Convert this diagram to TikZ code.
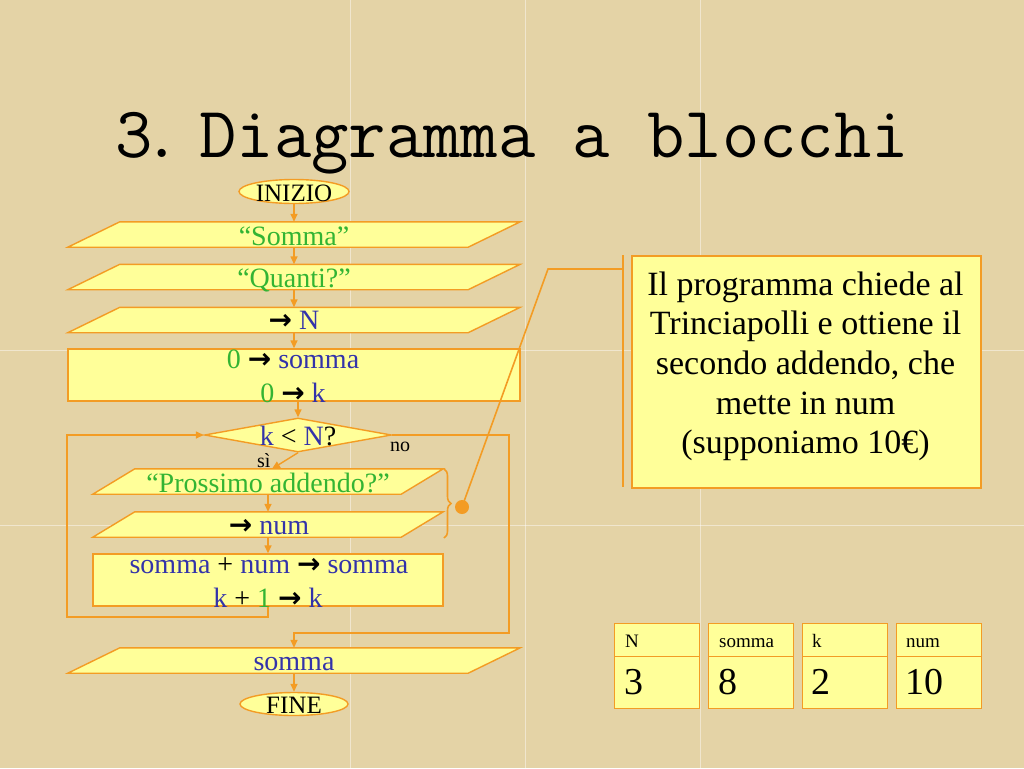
\documentclass[tikz,border=0pt]{standalone}
\usepackage{fontspec}
\setmainfont{Liberation Serif}
\newfontfamily\symfont{DejaVu Sans}
\usetikzlibrary{arrows.meta,calc,decorations.pathreplacing,shapes.geometric}
\definecolor{bgc}{RGB}{228,211,166}
\definecolor{boxfill}{RGB}{255,255,153}
\definecolor{orn}{RGB}{243,156,36}
\definecolor{grn}{RGB}{51,180,51}
\definecolor{blu}{RGB}{51,51,170}
\newcommand\ra{{\symfont\bfseries →}}
\newcommand\gr[1]{\textcolor{grn}{#1}}
\newcommand\bl[1]{\textcolor{blu}{#1}}
\newcommand\paragram[2]{\filldraw[box] ([xshift=#2]#1.north west) -- ([xshift=#2]#1.north east) -- ([xshift=-#2]#1.south east) -- ([xshift=-#2]#1.south west) -- cycle;}
\begin{document}
\begin{tikzpicture}[x=1pt,y=-1pt,
  box/.style={fill=boxfill,draw=orn,line width=1.4pt},
  conn/.style={draw=orn,line width=1.4pt,-{Triangle[length=8pt,width=7pt]}},
  wire/.style={draw=orn,line width=1.6pt},
  core/.style={inner sep=0pt,minimum height=25pt,draw=none,fill=none},
  ft/.style={anchor=base,inner sep=0pt,font=\fontsize{28}{34}\selectfont},
  small/.style={anchor=base west,inner sep=0pt,font=\fontsize{20}{24}\selectfont},
  big/.style={anchor=base west,inner sep=0pt,font=\fontsize{38}{44}\selectfont},
  cell/.style={box,anchor=north west,minimum width=85pt,inner sep=0pt},
  seam/.style={draw=white,opacity=0.45,line width=1pt}]
\useasboundingbox (0,0) rectangle (1024,768);
\fill[bgc] (0,0) rectangle (1024,768);
\foreach \v in {350,525,700} {\draw[seam] (\v,0) -- (\v,768);}
\foreach \h in {350,525} {\draw[seam] (0,\h) -- (1024,\h);}

% title
\node[anchor=base west,inner sep=0pt,font=\ttfamily\addfontfeature{FakeBold=1.6}\fontsize{72.5}{80}\selectfont] (title) at (115,157) {3\kern-0.13em.\kern-0.25em\ Diagramma a blocchi};

% flowchart shapes
\node[ellipse,box,minimum width=110pt,minimum height=24pt,inner sep=0pt] (inizio) at (294,191.5) {};
\node[core,minimum width=400pt] (p1) at (294,234.5) {}; \paragram{p1}{26pt}
\node[core,minimum width=400pt] (p2) at (294,277) {}; \paragram{p2}{26pt}
\node[core,minimum width=400pt] (p3) at (294,320) {}; \paragram{p3}{26pt}
\node[box,rectangle,minimum width=452pt,minimum height=52pt,inner sep=0pt] (r1) at (294,375) {};
\node[diamond,box,aspect=5.5,minimum width=187pt,minimum height=34pt,inner sep=0pt] (dec) at (298,435) {};
\node[core,minimum width=308pt] (p4) at (268,481.5) {}; \paragram{p4}{21pt}
\node[core,minimum width=308pt] (p5) at (268,524.5) {}; \paragram{p5}{21pt}
\node[box,rectangle,minimum width=350pt,minimum height=52pt,inner sep=0pt] (r2) at (268,580) {};
\node[core,minimum width=400pt] (p6) at (294,660.5) {}; \paragram{p6}{26pt}
\node[ellipse,box,minimum width=108pt,minimum height=23pt,inner sep=0pt] (fine) at (294,704) {};

% texts
\node[inner sep=0pt,font=\fontsize{25}{30}\selectfont] (tinizio) at (294,193) {INIZIO};
\node[ft] (t1) at (294,245) {\gr{“Somma”}};
\node[ft] (t2) at (294,287) {\gr{“Quanti?”}};
\node[ft] (t3) at (294,329) {\ra\ \bl{N}};
\node[ft] (t4a) at (293,368) {\gr{0} \ra\ \bl{somma}};
\node[ft] (t4b) at (293,402) {\gr{0} \ra\ \bl{k}};
\node[ft] (t5) at (298,445) {\bl{k} < \bl{N}?};
\node[ft] (t6) at (268,492) {\gr{“Prossimo addendo?”}};
\node[ft] (t7) at (269,534) {\ra\ \bl{num}};
\node[ft] (t8a) at (269,573) {\bl{somma} + \bl{num} \ra\ \bl{somma}};
\node[ft] (t8b) at (268,607) {\bl{k} + \gr{1} \ra\ \bl{k}};
\node[ft] (t9) at (294,670) {\bl{somma}};
\node[inner sep=0pt,font=\fontsize{25}{30}\selectfont] (tfine) at (294,705) {FINE};
\node[small] (tno) at (390,451) {no};
\node[small] (tsi) at (257,467) {sì};

% connectors
\coordinate (lb) at (67,617);
\coordinate (rb) at (509,633);
\draw[conn] (inizio.south) -- (p1.north);
\draw[conn] (p1.south) -- (p2.north);
\draw[conn] (p2.south) -- (p3.north);
\draw[conn] (p3.south) -- (r1.north);
\draw[conn] (r1.south -| dec.north) -- (dec.north);
\draw[conn] (dec.south) -- ([xshift=4pt]p4.north);
\draw[conn] (p4.south) -- (p5.north);
\draw[conn] (p5.south) -- (r2.north);
\draw[conn] (r2.south) |- (lb) |- (dec.west);
\draw[conn] (dec.east) -| (rb) -| (p6.north);
\draw[conn] (p6.south) -- (fine.north);

% brace and callout
\draw[wire,decorate,decoration={brace,amplitude=7pt}] (444,469) -- (444,538);
\node[circle,fill=orn,minimum size=14pt,inner sep=0pt] (dot) at (462,507) {};
\node[box,line width=2pt,anchor=north west,minimum width=349pt,minimum height=232pt,inner sep=0pt] (call) at (631,255) {};
\draw[wire] (623,255) -- (623,487);
\coordinate (elb) at (548,269);
\coordinate (barpt) at (623,269);
\draw[wire] (dot.center) -- (elb) -- (barpt);
\node[inner sep=0pt,align=center,font=\fontsize{34}{39.6}\selectfont] (calltxt) at (805.5,366.4)
  {Il programma chiede al\\Trinciapolli e ottiene il\\secondo addendo, che\\mette in num\\(supponiamo 10€)};

% variable table
\node[cell,minimum height=33pt] (h1) at (614,623) {};
\node[cell,minimum height=52pt] (v1) at (614,656) {};
\node[cell,minimum height=33pt] (h2) at (708,623) {};
\node[cell,minimum height=52pt] (v2) at (708,656) {};
\node[cell,minimum height=33pt] (h3) at (802,623) {};
\node[cell,minimum height=52pt] (v3) at (802,656) {};
\node[cell,minimum height=33pt] (h4) at (896,623) {};
\node[cell,minimum height=52pt] (v4) at (896,656) {};
\node[small,font=\fontsize{19}{22}\selectfont] (lh1) at (625,647) {N};
\node[small,font=\fontsize{19}{22}\selectfont] (lh2) at (719,647) {somma};
\node[small,font=\fontsize{19}{22}\selectfont] (lh3) at (812,647) {k};
\node[small,font=\fontsize{19}{22}\selectfont] (lh4) at (906,647) {num};
\node[big] (lv1) at (624,694) {3};
\node[big] (lv2) at (718,694) {8};
\node[big] (lv3) at (811,694) {2};
\node[big] (lv4) at (905,694) {10};
\end{tikzpicture}
\end{document}
